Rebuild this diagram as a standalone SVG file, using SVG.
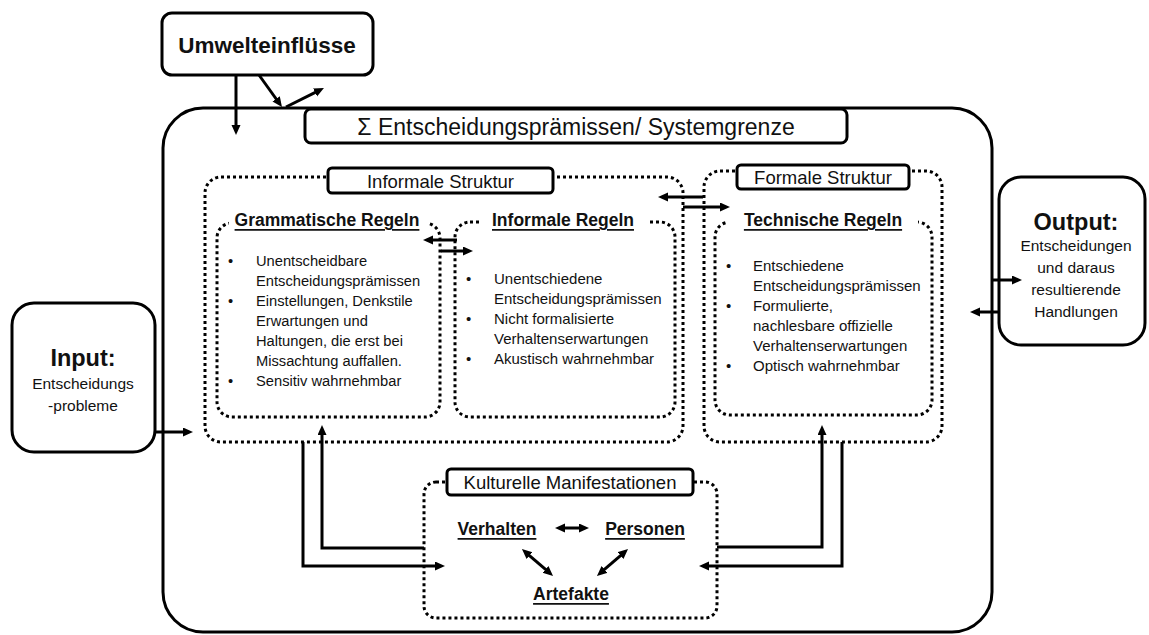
<svg xmlns="http://www.w3.org/2000/svg" width="1149" height="635" viewBox="0 0 1149 635">
<style>
  text { font-family: "Liberation Sans", Arial, sans-serif; fill: #111; }
  .solid { fill: #fff; stroke: #000; stroke-width: 3; }
  .dot { fill: none; stroke: #000; stroke-width: 3; stroke-dasharray: 3 3; }
  .lbl { fill: #fff; stroke: #000; stroke-width: 3; }
  .con { fill: none; stroke: #000; stroke-width: 3; marker-end: url(#ah); }
  .dbl { fill: none; stroke: #000; stroke-width: 3; marker-end: url(#ah); marker-start: url(#ah); }
  .title { font-weight: bold; font-size: 17.5px; text-decoration: underline; text-anchor: middle; }
  .body { font-size: 15px; }
  .gbody { font-size: 14.7px; }
  .mid { text-anchor: middle; }
</style>
<defs>
  <marker id="ah" markerUnits="userSpaceOnUse" markerWidth="10" markerHeight="10" refX="2" refY="4.5" orient="auto-start-reverse">
    <path d="M0,0 L10,4.5 L0,9 z" fill="#000"/>
  </marker>
</defs>

<g id="system-boundary">
  <rect class="solid" x="163" y="108" width="829" height="524" rx="40"/>
</g>

<g id="sigma-label">
  <rect class="lbl" x="305" y="109" width="542" height="34" rx="6"/>
  <text x="576" y="127" font-size="23" class="mid" dominant-baseline="central">Σ Entscheidungsprämissen/ Systemgrenze</text>
</g>

<g id="umwelteinfluesse">
  <rect class="solid" x="162" y="13" width="211" height="62" rx="10"/>
  <text x="267" y="45" font-size="22.5" font-weight="bold" class="mid" dominant-baseline="central">Umwelteinflüsse</text>
</g>

<g id="input">
  <rect class="solid" x="12" y="303" width="143" height="149" rx="22"/>
  <text x="83" y="358" font-size="23.5" font-weight="bold" class="mid" dominant-baseline="central">Input:</text>
  <text x="83" y="383" font-size="15.5" class="mid" dominant-baseline="central">Entscheidungs</text>
  <text x="83" y="405" font-size="15.5" class="mid" dominant-baseline="central">-probleme</text>
</g>

<g id="output">
  <rect class="solid" x="999" y="177" width="146" height="168" rx="22"/>
  <text x="1076" y="222" font-size="23.5" font-weight="bold" class="mid" dominant-baseline="central">Output:</text>
  <text x="1076" y="245" font-size="15.5" class="mid" dominant-baseline="central">Entscheidungen</text>
  <text x="1076" y="267" font-size="15.5" class="mid" dominant-baseline="central">und daraus</text>
  <text x="1076" y="289" font-size="15.5" class="mid" dominant-baseline="central">resultierende</text>
  <text x="1076" y="311" font-size="15.5" class="mid" dominant-baseline="central">Handlungen</text>
</g>

<g id="informale-struktur">
  <rect class="dot" x="205" y="177" width="478" height="265" rx="16"/>
  <rect class="lbl" x="328" y="168" width="225" height="25" rx="4"/>
  <text x="440.5" y="181" font-size="18.5" class="mid" dominant-baseline="central">Informale Struktur</text>
</g>

<g id="grammatische-regeln">
  <rect class="dot" x="217" y="223" width="223" height="194" rx="15"/>
  <rect x="229" y="210" width="199" height="20" fill="#fff"/>
  <text x="327" y="220" class="title" dominant-baseline="central">Grammatische Regeln</text>
  <g class="gbody" dominant-baseline="central">
    <text x="228" y="261">•</text><text x="256" y="261">Unentscheidbare</text>
    <text x="256" y="281">Entscheidungsprämissen</text>
    <text x="228" y="301">•</text><text x="256" y="301">Einstellungen, Denkstile</text>
    <text x="256" y="321">Erwartungen und</text>
    <text x="256" y="341">Haltungen, die erst bei</text>
    <text x="256" y="361">Missachtung auffallen.</text>
    <text x="228" y="381">•</text><text x="256" y="381">Sensitiv wahrnehmbar</text>
  </g>
</g>

<g id="informale-regeln">
  <rect class="dot" x="455" y="222" width="220" height="195" rx="15"/>
  <rect x="481" y="209" width="166" height="22" fill="#fff"/>
  <text x="563" y="220" class="title" dominant-baseline="central">Informale Regeln</text>
  <g class="body" dominant-baseline="central">
    <text x="466" y="278">•</text><text x="494" y="278">Unentschiedene</text>
    <text x="494" y="298">Entscheidungsprämissen</text>
    <text x="466" y="318">•</text><text x="494" y="318">Nicht formalisierte</text>
    <text x="494" y="338">Verhaltenserwartungen</text>
    <text x="466" y="358">•</text><text x="494" y="358">Akustisch wahrnehmbar</text>
  </g>
</g>

<g id="formale-struktur">
  <rect class="dot" x="704" y="171" width="238" height="271" rx="16"/>
  <rect class="lbl" x="737" y="165" width="172" height="24" rx="4"/>
  <text x="823" y="177" font-size="18.5" class="mid" dominant-baseline="central">Formale Struktur</text>
</g>

<g id="technische-regeln">
  <rect class="dot" x="715" y="222" width="217" height="193" rx="15"/>
  <rect x="727" y="209" width="191" height="22" fill="#fff"/>
  <text x="823" y="220" class="title" dominant-baseline="central">Technische Regeln</text>
  <g class="body" dominant-baseline="central">
    <text x="726" y="265">•</text><text x="753" y="265">Entschiedene</text>
    <text x="753" y="285">Entscheidungsprämissen</text>
    <text x="726" y="305">•</text><text x="753" y="305">Formulierte,</text>
    <text x="753" y="325">nachlesbare offizielle</text>
    <text x="753" y="345">Verhaltenserwartungen</text>
    <text x="726" y="365">•</text><text x="753" y="365">Optisch wahrnehmbar</text>
  </g>
</g>

<g id="kulturelle-manifestationen">
  <rect class="dot" x="424" y="482" width="293" height="136" rx="12"/>
  <rect class="lbl" x="447" y="469" width="246" height="26" rx="4"/>
  <text x="570" y="482" font-size="18.5" class="mid" dominant-baseline="central">Kulturelle Manifestationen</text>
</g>

<g id="verhalten"><text x="497" y="529" class="title" dominant-baseline="central">Verhalten</text></g>
<g id="personen"><text x="645" y="529" class="title" dominant-baseline="central">Personen</text></g>
<g id="artefakte"><text x="571" y="594" class="title" dominant-baseline="central">Artefakte</text></g>

<g id="connectors">
  <path class="con" d="M236,75 V127"/>
  <path class="con" d="M259,75 L277.3,100.5"/>
  <path class="con" d="M286,107 L316.8,91.6"/>
  <path class="con" d="M155,432 H185"/>
  <path class="con" d="M992,280 H1014"/>
  <path class="con" d="M1000,312 H978"/>
  <path class="con" d="M457,240 H431"/>
  <path class="con" d="M441,251 H465"/>
  <path class="con" d="M703,197 H666"/>
  <path class="con" d="M683,207 H722"/>
  <path class="con" d="M424,548 H322 V433"/>
  <path class="con" d="M303,442 V566 H437"/>
  <path class="con" d="M717,547 H822 V433"/>
  <path class="con" d="M842,442 V566 H707"/>
  <path class="dbl" d="M563,528 H581"/>
  <path class="dbl" d="M528,554.3 L547,570.7"/>
  <path class="dbl" d="M622,554.3 L603,570.7"/>
</g>
</svg>
